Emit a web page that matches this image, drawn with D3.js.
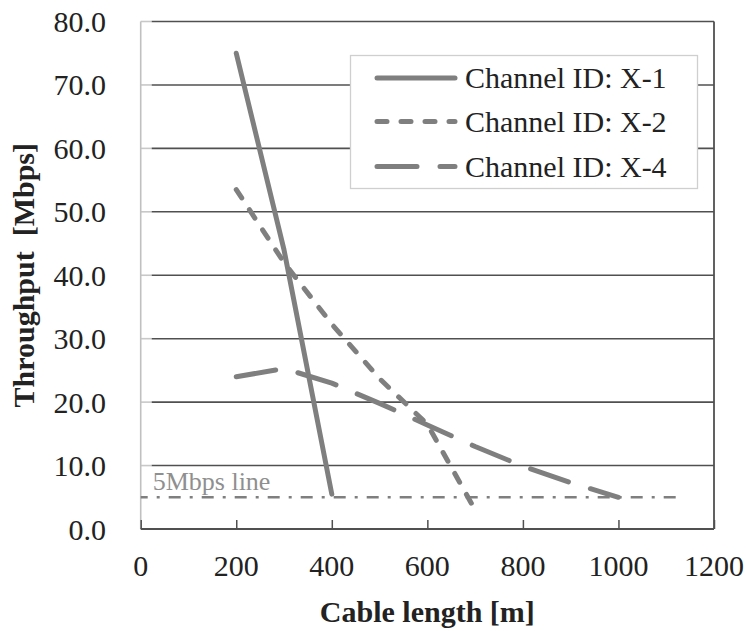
<!DOCTYPE html>
<html lang="en">
<head>
    <meta charset="UTF-8">
    <title>Throughput vs Cable length</title>
    <style>
        body { margin: 0; background: #fff; }
        svg { display: block; font-family: "Liberation Serif", "Times New Roman", serif; }
    </style>
</head>
<body>
    <svg id="chart"></svg>

    <script src="https://d3js.org/d3.v7.min.js"></script>
    <script>
        // --- DATA ---
        const xTicks = [0, 200, 400, 600, 800, 1000, 1200];
        const yTicks = [0, 10, 20, 30, 40, 50, 60, 70, 80];

        const lengthX1 = [200, 300, 400];
        const throughputX1 = [75, 44, 5.5];

        const lengthX2 = [200, 300, 400, 500, 600, 700];
        const throughputX2 = [53.5, 42, 32.3, 23.7, 16.5, 3];

        const lengthX4 = [200, 300, 400, 500, 600, 700, 800, 900, 1000];
        const throughputX4 = [24, 25.3, 23, 19.8, 16.4, 13, 9.9, 7.3, 5];

        const refLength = [0, 1120];
        const refValue = [5, 5];

        const seriesNames = ["Channel ID: X-1", "Channel ID: X-2", "Channel ID: X-4"];

        // --- LAYOUT ---
        const W = 746, H = 631;
        const margin = { top: 21.5, right: 32, bottom: 102, left: 140.7 };

        const svg = d3.select("#chart").attr("width", W).attr("height", H);

        const x = d3.scaleLinear().domain([0, 1200]).range([margin.left, W - margin.right]);
        const y = d3.scaleLinear().domain([0, 80]).range([H - margin.bottom, margin.top]);

        const grey = "#7f7f7f";
        const dark = "#505050";

        // horizontal gridlines (light stub near the left axis, then dark)
        svg.append("g").selectAll("line")
            .data(yTicks.filter(d => d > 0))
            .join("line")
            .attr("x1", x(0)).attr("x2", x(0) + 11)
            .attr("y1", d => y(d)).attr("y2", d => y(d))
            .attr("stroke", "#c8c8c8").attr("stroke-width", 1.6);
        svg.append("g").selectAll("line")
            .data(yTicks.filter(d => d > 0))
            .join("line")
            .attr("x1", x(0) + 11).attr("x2", x(1200))
            .attr("y1", d => y(d)).attr("y2", d => y(d))
            .attr("stroke", dark).attr("stroke-width", 1.6);

        // left axis line (light), right border + bottom axis (dark)
        svg.append("line")
            .attr("x1", x(0)).attr("x2", x(0)).attr("y1", y(80)).attr("y2", y(0))
            .attr("stroke", "#c0c0c0").attr("stroke-width", 1.6);
        svg.append("line")
            .attr("x1", x(1200)).attr("x2", x(1200)).attr("y1", y(80)).attr("y2", y(0))
            .attr("stroke", dark).attr("stroke-width", 1.8);

        const xAxis = svg.append("g")
            .attr("transform", `translate(0,${y(0)})`)
            .call(d3.axisBottom(x).tickValues(xTicks).tickSize(-9).tickPadding(0).tickFormat(""));
        xAxis.select(".domain").attr("stroke", dark).attr("stroke-width", 1.8).attr("d", `M${x(0)},0H${x(1200)}`);
        xAxis.selectAll(".tick line").attr("stroke", dark).attr("stroke-width", 1.5);

        // tick labels
        svg.append("g").selectAll("text")
            .data(yTicks)
            .join("text")
            .attr("x", 106).attr("y", d => y(d) + 10.5)
            .attr("text-anchor", "end")
            .attr("font-size", 30).attr("fill", "#222")
            .text(d => d3.format(".1f")(d));

        svg.append("g").selectAll("text")
            .data(xTicks)
            .join("text")
            .attr("x", d => x(d)).attr("y", 576)
            .attr("text-anchor", "middle")
            .attr("font-size", 30).attr("fill", "#222")
            .text(d => d);

        // axis titles
        svg.append("text")
            .attr("x", (x(0) + x(1200)) / 2).attr("y", 622)
            .attr("text-anchor", "middle")
            .attr("font-size", 30).attr("font-weight", "bold").attr("fill", "#222")
            .text("Cable length [m]");

        svg.append("text")
            .attr("transform", `translate(34,${(y(0) + y(80)) / 2}) rotate(-90)`)
            .attr("text-anchor", "middle")
            .attr("font-size", 30).attr("font-weight", "bold").attr("fill", "#222")
            .attr("xml:space", "preserve")
            .text("Throughput  [Mbps]");

        // 5 Mbps reference line
        const lineGen = d3.line().x(d => x(d[0])).y(d => y(d[1]));

        svg.append("path")
            .attr("d", lineGen(d3.zip(refLength, refValue)))
            .attr("fill", "none").attr("stroke", grey).attr("stroke-width", 2.6)
            .attr("stroke-dasharray", "12,9,3,9").attr("stroke-dashoffset", 5);

        svg.append("text")
            .attr("x", 152.7).attr("y", 490)
            .attr("font-size", 26).attr("fill", "#8f8f8f")
            .text("5Mbps line");

        // data series
        const styles = [
            { dash: null, data: d3.zip(lengthX1, throughputX1) },
            { dash: "10,14", data: d3.zip(lengthX2, throughputX2) },
            { dash: "40,23", data: d3.zip(lengthX4, throughputX4) }
        ];

        styles.forEach(s => {
            svg.append("path")
                .attr("d", lineGen(s.data))
                .attr("fill", "none").attr("stroke", grey).attr("stroke-width", 5)
                .attr("stroke-linecap", "round").attr("stroke-linejoin", "round")
                .attr("stroke-dasharray", s.dash);
        });

        // legend
        const legend = svg.append("g");
        legend.append("rect")
            .attr("x", 350.5).attr("y", 55.5).attr("width", 347).attr("height", 133)
            .attr("fill", "#fff").attr("stroke", "#cfcfcf").attr("stroke-width", 1.3);

        const rowY = [78, 121.5, 166.5];
        seriesNames.forEach((name, i) => {
            legend.append("line")
                .attr("x1", 377).attr("x2", 455)
                .attr("y1", rowY[i]).attr("y2", rowY[i])
                .attr("stroke", grey).attr("stroke-width", 5)
                .attr("stroke-linecap", "round")
                .attr("stroke-dasharray", styles[i].dash);
            legend.append("text")
                .attr("x", 465).attr("y", rowY[i] + 10)
                .attr("font-size", 30).attr("fill", "#222")
                .text(name);
        });
    </script>
</body>
</html>
